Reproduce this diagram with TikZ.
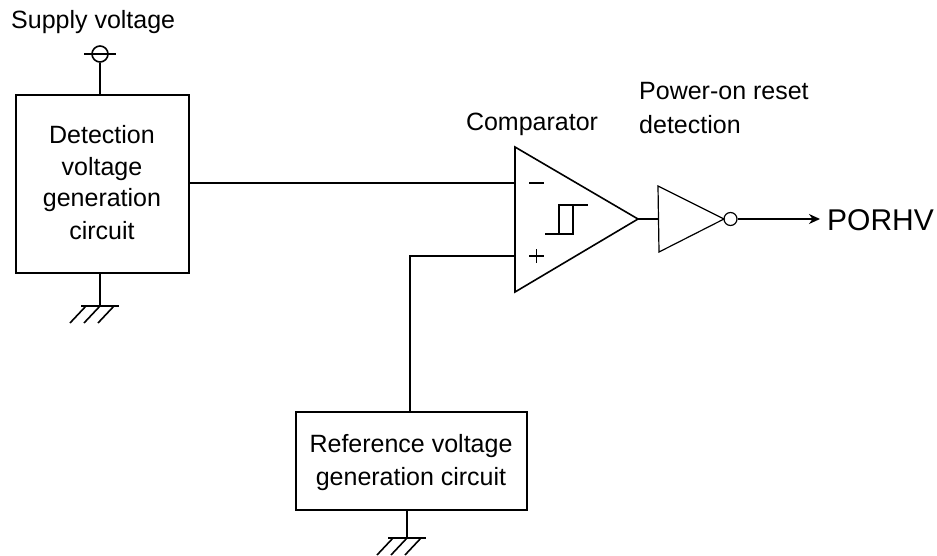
\documentclass[tikz,border=0pt]{standalone}
\usepackage{fontspec}
\setmainfont{Liberation Sans}
\usetikzlibrary{arrows.meta}
\tikzset{
  x=1pt,y=-1pt,
  wire/.style={line width=1.6pt,black},
  thinwire/.style={line width=1.2pt,black},
  blockbox/.style={draw=black,line width=1.6pt,inner sep=0pt,anchor=north west},
  label/.style={inner sep=0pt,font=\fontsize{25}{25}\selectfont},
}
\newcommand{\gnd}[2]{%
  \draw[wire] (#1,#2) ++(-19,0) -- ++(38,0);
  \draw[wire] (#1,#2) ++(-14,0) -- ++(-16,17);
  \draw[wire] (#1,#2) ++(0,0) -- ++(-16,17);
  \draw[wire] (#1,#2) ++(14,0) -- ++(-16,17);
}
\begin{document}
\begin{tikzpicture}
\useasboundingbox (0,0) rectangle (937,555);
% blocks
\node[blockbox,minimum width=173pt,minimum height=178pt] (det) at (15,94) {};
\node[blockbox,minimum width=231pt,minimum height=98pt] (ref) at (295,411) {};
% block labels
\node[label] (l1) at (102,135) {Detection};
\node[label] (l2) at (102,169) {voltage};
\node[label] (l3) at (102,200) {generation};
\node[label] (l4) at (102,231) {circuit};
\node[label] (l5) at (411,446) {Reference voltage};
\node[label] (l6) at (411,479) {generation circuit};
\node[label,anchor=west] (sup) at (11,22) {Supply voltage};
\node[label] (cmp) at (532,124) {Comparator};
\node[label,anchor=west] (por1) at (639,91) {Power-on reset};
\node[label,anchor=west] (por2) at (639,125) {detection};
\node[label,anchor=west,font=\fontsize{30}{30}\selectfont] (porhv) at (827,220) {PORHV};
% supply terminal
\node[draw=black,line width=1.6pt,circle,minimum size=16pt,inner sep=0pt] (vdd) at (100,54) {};
\draw[wire] (84,54) -- (116,54);
\draw[wire] (vdd.south) -- (vdd.south |- det.north);
% grounds
\coordinate (g1) at (100,306);
\coordinate (g2) at (407,538);
\draw[wire] (g1 |- det.south) -- (g1);
\draw[wire] (g2 |- ref.south) -- (g2);
\gnd{100}{306}
\gnd{407}{538}
% comparator
\coordinate (ct) at (515,147);
\coordinate (cb) at (515,292);
\coordinate (co) at (638,219);
\coordinate (cm) at (515,183);
\coordinate (cp) at (515,256);
\draw[wire,line join=miter] (ct) -- (co) -- (cb) -- cycle;
\draw[wire] (529,183) -- (544,183);
\draw[wire] (529,256) -- (544,256) (536.5,249) -- (536.5,263);
\draw[wire] (545,234) -- (573,234) -- (573,205) -- (559,205) -- (559,234);
\draw[wire] (573,205) -- (588,205);
% inverter
\coordinate (it) at (658,186);
\coordinate (ib) at (659,252);
\coordinate (io) at (724,219);
\draw[thinwire] (it) -- (io) -- (ib) -- cycle;
\node[draw=black,line width=1.2pt,circle,minimum size=13pt,inner sep=0pt] (bub) at (730.5,219) {};
\coordinate (ii) at (658.5,219);
\coordinate (oe) at (820,219);
% connectors
\draw[wire] (det.east |- cm) -- (cm);
\draw[wire] (ref.north -| 410,0) -- (410,256) -- (cp);
\draw[wire] (co) -- (ii);
\draw[wire,-{Stealth[length=11pt,width=10pt]}] (bub.east) -- (oe);
\end{tikzpicture}
\end{document}
